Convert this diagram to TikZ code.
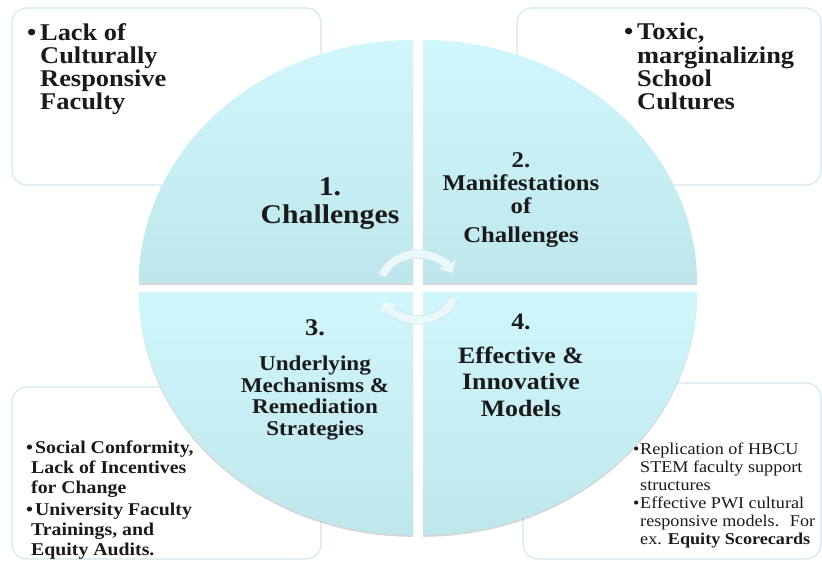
\documentclass[tikz,border=0pt]{standalone}
\usepackage{fontspec}
\setmainfont{Liberation Serif}[FakeStretch=1.1]
\usetikzlibrary{arrows.meta,shadows}
\definecolor{quadtop}{RGB}{208,247,251}
\definecolor{quadbot}{RGB}{190,231,236}
\definecolor{panelline}{RGB}{210,230,236}
\definecolor{arrowbody}{RGB}{234,248,250}
\definecolor{arrowedge}{RGB}{196,222,228}
\definecolor{ink}{RGB}{26,26,26}
\begin{document}
\begin{tikzpicture}[x=1pt,y=-1pt,
  panel/.style={draw=panelline, line width=1.1pt, fill=white, rounded corners=15pt},
  quad/.style={top color=quadtop, bottom color=quadbot, draw=none,
    drop shadow={shadow xshift=0pt, shadow yshift=-1.8pt, opacity=0.35, fill=black!45}},
  note/.style={inner sep=0pt, align=left, text=ink, anchor=north west},
  qlabel/.style={inner sep=0pt, align=center, text=ink, anchor=north},
  cyc/.style={line width=8pt, draw=arrowbody,
    preaction={draw=arrowedge, line width=9.5pt, draw opacity=0.7},
    -{Triangle[width=18pt,length=10pt]}}
]
\useasboundingbox (0,0) rectangle (822,561);

% outer note panels
\draw[panel] (12,8) rectangle (321,185);
\draw[panel] (517,8) rectangle (821,185);
\draw[panel] (12,387) rectangle (321,559);
\draw[panel] (523,383) rectangle (821,559);

% four quadrants of the cycle
\path[quad] (413,283) -- ++(-274,0) arc[start angle=180,end angle=270,x radius=274,y radius=243] -- cycle;
\path[quad] (423,283) -- ++(0,-243) arc[start angle=270,end angle=360,x radius=274,y radius=243] -- cycle;
\path[quad] (423,292) -- ++(274,0) arc[start angle=0,end angle=90,x radius=274,y radius=243] -- cycle;
\path[quad] (413,292) -- ++(0,243) arc[start angle=90,end angle=180,x radius=274,y radius=243] -- cycle;

% cycle arrows around the hub
\coordinate (hub) at (418,287);
\draw[cyc] (hub) ++(200:38 and 33) arc[start angle=200,end angle=335,x radius=38,y radius=33];
\draw[cyc] (hub) ++(20:38 and 33) arc[start angle=20,end angle=155,x radius=38,y radius=33];

% quadrant titles
\node[qlabel, font=\fontsize{27}{28}\selectfont\bfseries] (q1) at (330,177) {1.\\Challenges};
\node[qlabel, font=\fontsize{22.5}{23}\selectfont\bfseries] (q2) at (521,152) {2.\\Manifestations\\of\\[6pt]Challenges};
\node[qlabel, font=\fontsize{21}{21.5}\selectfont\bfseries] (q3) at (315,319) {{\fontsize{24}{21.5}\selectfont 3.}\\[14pt]Underlying\\Mechanisms \&\\Remediation\\Strategies};
\node[qlabel, font=\fontsize{23.5}{26.5}\selectfont\bfseries] (q4) at (521,314) {4.\\[7pt]Effective \&\\Innovative\\Models};

% panel notes
\node[note, font=\fontsize{24}{23.3}\selectfont\bfseries] (n1) at (27,23)
  {\makebox[13pt][l]{\textbullet}Lack of\\\hspace*{13pt}Culturally\\\hspace*{13pt}Responsive\\\hspace*{13pt}Faculty};
\node[note, font=\fontsize{24}{23.3}\selectfont\bfseries] (n2) at (624,23)
  {\makebox[13pt][l]{\textbullet}Toxic,\\\hspace*{13pt}marginalizing\\\hspace*{13pt}School\\\hspace*{13pt}Cultures};
\node[note, font=\fontsize{18}{20}\selectfont\bfseries] (n3) at (26,441)
  {\makebox[9pt][l]{\textbullet}Social Conformity,\\\hspace*{5pt}Lack of Incentives\\\hspace*{5pt}for Change\\[2pt]\makebox[9pt][l]{\textbullet}University Faculty\\\hspace*{5pt}Trainings, and\\\hspace*{5pt}Equity Audits.};
\node[note, font=\fontsize{16.5}{18}\selectfont] (n4) at (633,443)
  {\makebox[7pt][l]{\textbullet}Replication of HBCU\\\hspace*{7pt}STEM faculty support\\\hspace*{7pt}structures\\[0pt]\makebox[7pt][l]{\textbullet}Effective PWI cultural\\\hspace*{7pt}responsive models.~ For\\\hspace*{7pt}ex. \textbf{Equity Scorecards}};
\end{tikzpicture}
\end{document}
